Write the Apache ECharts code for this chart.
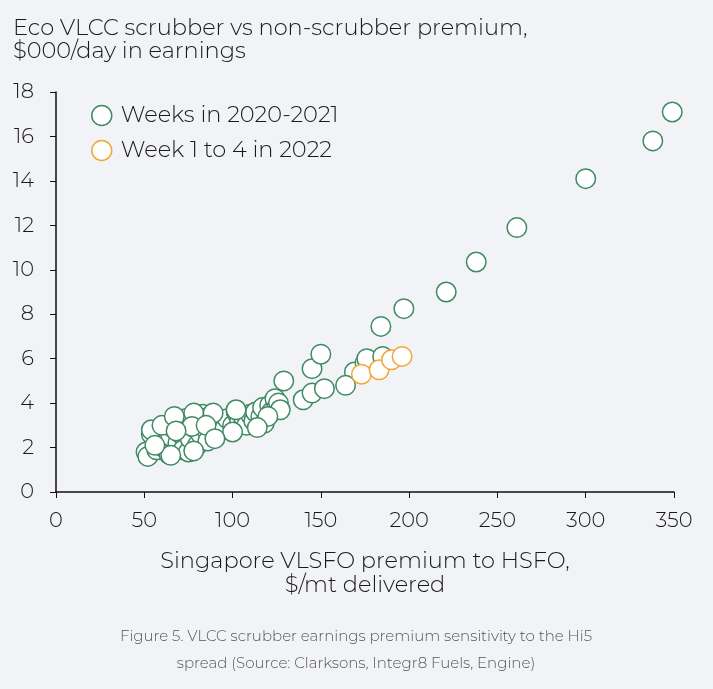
<!DOCTYPE html>
<html lang="en">
<head>
    <meta charset="UTF-8">
    <title>Eco VLCC scrubber premium</title>
    <script src="https://cdn.jsdelivr.net/npm/echarts@6/dist/echarts.min.js"></script>
    <style>
        html, body { margin: 0; padding: 0; background: #f2f3f7; }
    </style>
</head>
<body>
<div id="main" style="width: 713px;height:689px;"></div>
<script type="text/javascript">
    // weekly points, [spread $/mt, premium $000/day]
    var weeks2020_2021 = [
        [51, 1.8], [52, 1.6], [54, 2.6], [57, 1.9], [58, 2.4], [59, 2.8], [60, 2.3], [61, 2.0],
        [62, 2.7], [63, 3.0], [64, 1.7], [65, 2.5], [66, 2.9], [67, 3.2], [69, 2.2], [70, 3.1],
        [71, 2.6], [72, 1.9], [73, 3.3], [74, 2.8], [75, 1.8], [76, 2.4], [78, 2.9], [79, 3.4],
        [80, 2.1], [81, 3.2], [82, 2.6], [83, 3.5], [84, 2.9], [85, 3.3], [86, 2.3], [87, 3.4],
        [88, 3.0], [90, 3.2], [92, 3.1], [95, 2.8], [97, 3.3], [100, 3.0], [102, 3.6], [104, 3.2],
        [106, 3.4], [108, 3.0], [110, 3.5], [112, 3.2], [113, 3.6], [116, 3.4], [117, 3.8], [118, 3.1],
        [121, 3.9], [122, 3.6], [124, 4.2], [125, 3.8], [126, 4.0], [127, 3.7], [129, 5.0],
        [140, 4.15], [145, 5.55], [150, 6.2], [169, 5.4], [175, 5.8], [176, 6.0], [185, 6.1],
        [184, 7.45], [197, 8.25], [221, 9.0], [238, 10.35], [261, 11.9], [300, 14.1], [338, 15.8], [349, 17.1],
        [54, 2.8], [60, 3.0], [67, 3.4], [78, 3.55], [89, 3.55], [77, 2.95], [85, 3.0], [68, 2.75],
        [102, 3.7], [120, 3.4], [114, 2.9], [100, 2.7], [90, 2.4], [78, 1.85], [65, 1.65], [56, 2.1],
        [145, 4.45], [152, 4.65], [164, 4.8]
    ];
    var weeks2022 = [[173, 5.3], [183, 5.5], [190, 5.95], [196, 6.1]];

    var xTicks = [0, 50, 100, 150, 200, 250, 300, 350];
    var yTicks = [0, 2, 4, 6, 8, 10, 12, 14, 16, 18];

    var green = '#3f8a64';
    var orange = '#f2a735';
    var font = 'Montserrat, "Open Sans", sans-serif';
    var ink = '#1a1a1a';

    var myChart = echarts.init(document.getElementById('main'));

    var option = {
        backgroundColor: '#f2f3f7',
        textStyle: { fontFamily: font, fontWeight: 300 },
        title: [{
            text: 'Eco VLCC scrubber vs non-scrubber premium,\n$000/day in earnings',
            left: 8,
            top: 12,
            textStyle: { fontFamily: font, fontWeight: 300, fontSize: 22.5, lineHeight: 23, color: ink }
        }, {
            text: 'Figure 5. VLCC scrubber earnings premium sensitivity to the Hi5\nspread (Source: Clarksons, Integr8 Fuels, Engine)',
            left: 351,
            top: 618,
            textAlign: 'center',
            textStyle: { fontFamily: font, fontWeight: 300, fontSize: 15, lineHeight: 27, color: '#555555', align: 'center' }
        }],
        legend: {
            orient: 'vertical',
            left: 86,
            top: 99,
            itemGap: 12,
            itemWidth: 20,
            itemHeight: 20,
            textStyle: { fontFamily: font, fontWeight: 300, fontSize: 22.5, color: ink, padding: [0, 0, 0, 4] },
            data: [
                { name: 'Weeks in 2020-2021', icon: 'circle', itemStyle: { color: '#ffffff', borderColor: green, borderWidth: 1.5 } },
                { name: 'Week 1 to 4 in 2022', icon: 'circle', itemStyle: { color: '#ffffff', borderColor: orange, borderWidth: 1.5 } }
            ]
        },
        grid: { left: 56, right: 39, top: 92, bottom: 197, containLabel: false },
        xAxis: {
            type: 'value',
            min: xTicks[0],
            max: xTicks[xTicks.length - 1],
            interval: 50,
            name: 'Singapore VLSFO premium to HSFO,\n$/mt delivered',
            nameLocation: 'middle',
            nameGap: 57,
            nameTextStyle: { fontFamily: font, fontWeight: 300, fontSize: 22.5, lineHeight: 24, color: ink, verticalAlign: 'top' },
            axisLine: { lineStyle: { color: '#111', width: 1.5 } },
            axisTick: { show: true, length: 6, lineStyle: { color: '#111' } },
            axisLabel: { fontFamily: font, fontWeight: 300, fontSize: 21, color: ink, margin: 18 },
            splitLine: { show: false }
        },
        yAxis: {
            type: 'value',
            min: yTicks[0],
            max: yTicks[yTicks.length - 1],
            interval: 2,
            axisLine: { show: true, lineStyle: { color: '#111', width: 1.5 } },
            axisTick: { show: true, length: 6, lineStyle: { color: '#111' } },
            axisLabel: { fontFamily: font, fontWeight: 300, fontSize: 21, color: ink, margin: 22 },
            splitLine: { show: false }
        },
        series: [{
            name: 'Weeks in 2020-2021',
            type: 'scatter',
            symbol: 'circle',
            symbolSize: 19.5,
            data: weeks2020_2021,
            itemStyle: { color: '#ffffff', borderColor: green, borderWidth: 1.5, opacity: 1 }
        }, {
            name: 'Week 1 to 4 in 2022',
            type: 'scatter',
            symbol: 'circle',
            symbolSize: 19.5,
            data: weeks2022,
            itemStyle: { color: '#ffffff', borderColor: orange, borderWidth: 1.5, opacity: 1 }
        }]
    };

    myChart.setOption(option);
</script>
</body>
</html>
